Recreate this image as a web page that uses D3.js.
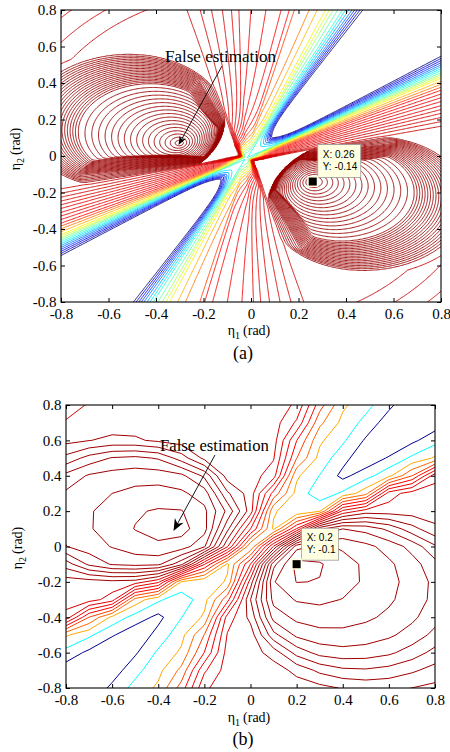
<!DOCTYPE html>
<html>
<head>
<meta charset="utf-8">
<script src="https://cdn.jsdelivr.net/npm/d3@7"></script>
<style>
  html, body { margin: 0; padding: 0; background: #ffffff; }
  svg { display: block; }
</style>
</head>
<body>
<svg id="fig" width="450" height="752"></svg>
<script>
// ---------------- data ----------------
const etaTicks = [-0.8, -0.6, -0.4, -0.2, 0, 0.2, 0.4, 0.6, 0.8];
const etaTickLabels = ["-0.8", "-0.6", "-0.4", "-0.2", "0", "0.2", "0.4", "0.6", "0.8"];

// (a) cost surface evaluated on a fine grid
const levelsA = [1,2,3,4,5,6,7,8,9,10,11,12,13,14,15,16,17,18,19,20,21,22,23,24,25,26,27,28,29,30,
                 31,32,33,34,35,36,37,38,39,40,41,42,43,44,45,46,47,48,49,50,51,52,53,54,55,56,57,58,59,60,61,62];
const saddleA = [-0.02, -0.013];               // crossing point of the valley (rad)
const wedgeA = [34.3, 58.9];                   // shallow / steep edge of the low wedges (deg, seen from the crossing)
const wedgeFallA = [1.6, -20];                 // fall inside a wedge (levels per deg), floor level
const crossingA = [8, 0.1, 2, 0.2, 4];         // crossing level; core radius and sharpness on the hill / wedge side
const steepBandA = [[0,1],[2.4,5],[4.6,8],[6.9,10],[8.7,12],[10.8,13],[12.7,14],[17,15],[18.3,16],
                    [20.3,17],[24.6,18],[29.1,19],[32.9,20],[35,21],[37.5,22],[50,26],[56,32],[66,50],[90,150]];
const shallowBandA = [[0,1],[2.3,5],[3.9,8],[5,10],[6.1,12],[7.9,14],[9.7,16],[10.9,17],[12.1,18],
                      [13.3,19],[14.7,20],[17.3,22],[23,26],[27,32],[35,50],[55,150]];
const hillPeaksA = [[-0.30, 0.07], [0.26, -0.14]];
const hillCentresA = [[-0.53, 0.19], [0.49, -0.26]];
const hillAxesA = [[0.42, 0.365], [0.42, 0.365]];
const hillTiltA = [8, 8];
const ringShapeA = 1.5;                        // how fast the rings drift from the peak towards the outer centre
const hillProfilesA = [[[0,62],[0.7,45],[1.0,26],[1.15,23],[2,14]],
                       [[0,62],[0.7,45],[1.0,26],[1.15,23],[2,14]]];
const shoulderA = [25.6, 0.86, 11];            // shoulder level, radius where it starts to fall, fall per rad
const tipA = [0.26, -0.14];

// (b) cost surface evaluated on a 0.1 rad grid
const levelsB = [1,2,3,4,5,6,7,8,9,10,11,12,13,14,15,16,17];
const saddleB = [0, 0];
const wedgeB = [37.3, 54];
const wedgeFallB = [0.3, -3];
const crossingB = [3.1, 0.15, 2, 0.52, 2];
const steepBandB = [[0,1],[3.3,2],[8.7,3],[12.5,4],[13.5,5],[17.3,6],[18.7,7],[20,8],[21.2,9],[25,10],[40,18],[90,30]];
const shallowBandB = [[0,1],[2,2],[5,3],[7,4],[7.5,5],[8.8,6],[9.5,7],[10.3,8],[10.8,9],[13,10],[18,18],[60,30]];
const hillPeaksB = [[-0.33, 0.10], [0.20, -0.10]];
const hillCentresB = [[-0.55, 0.20], [0.50, -0.30]];
const hillAxesB = [[0.47, 0.37], [0.50, 0.45]];
const hillTiltB = [0, 0];
const ringShapeB = 1.3;
const hillProfilesB = [[[0,16.5],[0.3,16],[0.55,15],[0.8,14],[0.88,13],[0.94,12],[1.0,11],[1.08,10],[1.4,8]],
                       [[0,17.4],[0.2,17],[0.38,16],[0.6,15],[0.75,14],[0.85,13],[0.92,12],[1.0,11],[1.1,10],[1.4,8]]];
const shoulderB = [9.5, 0.95, 4];
const tipB = [0.2, -0.1];

// ---------------- surface construction ----------------
function lerpTable(t, v) {
  let i = 1;
  while (i < t.length - 1 && v > t[i][0]) i++;
  const x0 = t[i-1][0], y0 = t[i-1][1], x1 = t[i][0], y1 = t[i][1];
  return y0 + (y1 - y0) * (v - x0) / (x1 - x0);
}
function smin(a, b, k) {
  const m = Math.min(a, b);
  return m - k * Math.log(1 + Math.exp(-Math.abs(a - b) / k));
}
function makeSurface(p) {
  const drift = rho => rho <= 1 ? Math.pow(rho, p.ringShape) : 1 + p.ringShape * (rho - 1);
  const hills = p.peaks.map((pk, k) => {
    const c = Math.cos(p.tilt[k] * Math.PI / 180), s = Math.sin(p.tilt[k] * Math.PI / 180);
    const A = p.axes[k][0], B = p.axes[k][1];
    const local = (dx, dy) => [(dx * c + dy * s) / A, (-dx * s + dy * c) / B];
    const e = local(p.centres[k][0] - pk[0], p.centres[k][1] - pk[1]);
    const prof = p.hillProfiles[k];
    return (x, y) => {
      const v = local(x - pk[0], y - pk[1]);
      let lo = 0, hi = 8;
      for (let it = 0; it < 28; it++) {
        const m = (lo + hi) / 2, gm = drift(m);
        if (Math.hypot(v[0] - gm * e[0], v[1] - gm * e[1]) > m) lo = m; else hi = m;
      }
      return lerpTable(prof, (lo + hi) / 2);
    };
  });
  const [Lc, rsHill, nHill, rsWedge, nWedge] = p.crossing;
  return (x, y) => {
    const dx = x - p.saddle[0], dy = y - p.saddle[1];
    const r = Math.sqrt(dx * dx + dy * dy);
    let th = Math.atan2(dy, dx) * 180 / Math.PI;
    th = ((th % 180) + 180) % 180;
    const sh = p.wedge[0], st = p.wedge[1];
    let L;
    if (th >= sh && th <= st) {
      L = Math.max(1 - p.wedgeFall[0] * Math.min(th - sh, st - th), p.wedgeFall[1]);
    } else {
      const a = th > st ? th - st : th + 180 - st;
      const b = 180 - (st - sh) - a;
      L = smin(lerpTable(p.steep, a), lerpTable(p.shallow, b), 0.6);
    }
    const d = L - Lc;
    const q = d > 0 ? Math.pow(r / rsHill, nHill) : Math.pow(r / rsWedge, nWedge);
    const valley = Lc + d * q / (1 + q);
    let h = p.shoulder[0] - p.shoulder[2] * Math.max(0, r - p.shoulder[1]);
    for (const f of hills) h = Math.max(h, f(x, y));
    return smin(valley, h, 0.5);
  };
}
function sampleGrid(fn, lo, hi, step) {
  const n = Math.round((hi - lo) / step) + 1;
  const values = new Float64Array(n * n);
  for (let j = 0; j < n; j++) {
    const yv = lo + j * step;
    for (let i = 0; i < n; i++) values[j * n + i] = fn(lo + i * step, yv);
  }
  return { n, values, lo, step };
}

// ---------------- styles ----------------
function jet(t) {
  const c = v => Math.max(0, Math.min(1, v));
  return d3.rgb(255 * c(1.5 - Math.abs(4 * t - 3)), 255 * c(1.5 - Math.abs(4 * t - 2)), 255 * c(1.5 - Math.abs(4 * t - 1)));
}
function colourA(L) {
  if (L <= 16) return jet((L - 1) / 15 * 0.875).formatHex();
  if (L <= 25) return d3.rgb(255 - 55 * (L - 16) / 9, 0, 0).formatHex();
  return "#990000";
}
const coloursB = ["#00008f", "#00ffff", "#ffaa00", "#ff6a00", "#ff4000", "#ff0000", "#f20000", "#e60000", "#d90000",
                  "#a00000", "#a00000", "#a00000", "#a00000", "#a00000", "#a00000", "#a00000", "#a00000"];
const colourB = L => coloursB[levelsB.indexOf(L)];

// ---------------- drawing ----------------
const svg = d3.select("#fig");
const serif = "Liberation Serif";
const sans = "Liberation Sans";

const panels = [
  { id: "a", box: { l: 61, r: 441, t: 10, b: 302 },
    surface: { saddle: saddleA, wedge: wedgeA, wedgeFall: wedgeFallA, crossing: crossingA, steep: steepBandA,
               shallow: shallowBandA, peaks: hillPeaksA, centres: hillCentresA, axes: hillAxesA, tilt: hillTiltA,
               ringShape: ringShapeA, hillProfiles: hillProfilesA, shoulder: shoulderA },
    grid: [-0.82, 0.82, 0.005], levels: levelsA, colour: colourA, width: 0.9, tip: tipA,
    tipText: ["X: 0.26", "Y: -0.14"], tipBox: [5, -37, 43, 33],
    label: { x: 165, y: 61.5, size: 17 }, arrow: [[222, 66], [178.5, 145], 9, 3.6],
    xLabelY: 334.5, yLabel: [20, 149], caption: ["(a)", 359], tickPad: 6.8 },
  { id: "b", box: { l: 66, r: 435, t: 405, b: 688 },
    surface: { saddle: saddleB, wedge: wedgeB, wedgeFall: wedgeFallB, crossing: crossingB, steep: steepBandB,
               shallow: shallowBandB, peaks: hillPeaksB, centres: hillCentresB, axes: hillAxesB, tilt: hillTiltB,
               ringShape: ringShapeB, hillProfiles: hillProfilesB, shoulder: shoulderB },
    grid: [-0.9, 0.9, 0.1], levels: levelsB, colour: colourB, width: 1.0, tip: tipB,
    tipText: ["X: 0.2", "Y: -0.1"], tipBox: [5, -36, 37, 32],
    label: { x: 160, y: 450.5, size: 16.7 }, arrow: [[215, 455], [173.5, 531], 12, 5],
    xLabelY: 722, yLabel: [22, 548], caption: ["(b)", 745], tickPad: 6.4 }
];

panels.forEach(P => {
  const { l, r, t, b } = P.box;
  const x = d3.scaleLinear().domain([-0.8, 0.8]).range([l, r]);
  const y = d3.scaleLinear().domain([-0.8, 0.8]).range([b, t]);
  const g = svg.append("g");

  g.append("clipPath").attr("id", "clip-" + P.id)
    .append("rect").attr("x", l).attr("y", t).attr("width", r - l).attr("height", b - t);

  // contour lines of the surface
  const grid = sampleGrid(makeSurface(P.surface), P.grid[0], P.grid[1], P.grid[2]);
  const toPx = d3.geoTransform({
    point(cx, cy) {
      this.stream.point(x(grid.lo + (cx - 0.5) * grid.step), y(grid.lo + (cy - 0.5) * grid.step));
    }
  });
  const path = d3.geoPath(toPx);
  const polys = d3.contours().size([grid.n, grid.n]).thresholds(P.levels)(grid.values);
  g.append("g").attr("clip-path", `url(#clip-${P.id})`)
    .selectAll("path").data(polys).join("path")
    .attr("d", path).attr("fill", "none")
    .attr("stroke", d => P.colour(d.value))
    .attr("stroke-width", P.width).attr("stroke-linejoin", "round");

  // axes with inward ticks on all four sides
  const fmt = (d, i) => etaTickLabels[i];
  g.append("g").attr("transform", `translate(0,${b})`)
    .call(d3.axisBottom(x).tickValues(etaTicks).tickFormat(fmt).tickSizeInner(-4).tickSizeOuter(0).tickPadding(P.tickPad));
  g.append("g").attr("transform", `translate(${l},0)`)
    .call(d3.axisLeft(y).tickValues(etaTicks).tickFormat(fmt).tickSizeInner(-4).tickSizeOuter(0).tickPadding(4.5));
  g.append("g").attr("transform", `translate(0,${t})`)
    .call(d3.axisTop(x).tickValues(etaTicks).tickFormat("").tickSizeInner(-4).tickSizeOuter(0));
  g.append("g").attr("transform", `translate(${r},0)`)
    .call(d3.axisRight(y).tickValues(etaTicks).tickFormat("").tickSizeInner(-4).tickSizeOuter(0));
  g.selectAll(".domain").remove();
  g.selectAll(".tick line").attr("stroke", "#000").attr("stroke-width", 1);
  g.selectAll(".tick text").attr("font-family", serif).attr("font-size", 15).attr("fill", "#000");

  g.append("rect").attr("x", l).attr("y", t).attr("width", r - l).attr("height", b - t)
    .attr("fill", "none").attr("stroke", "#000").attr("stroke-width", 1.1);

  // axis titles
  const xl = g.append("text").attr("x", 249).attr("y", P.xLabelY).attr("text-anchor", "middle")
    .attr("font-family", serif).attr("font-size", 14);
  xl.append("tspan").text("\u03b7");
  xl.append("tspan").attr("font-size", 10).attr("dy", 4).text("1");
  xl.append("tspan").attr("dy", -4).attr("dx", 3).text("(rad)");

  const yl = g.append("text").attr("transform", `translate(${P.yLabel[0]},${P.yLabel[1]}) rotate(-90)`)
    .attr("text-anchor", "middle").attr("font-family", serif).attr("font-size", 14);
  yl.append("tspan").text("\u03b7");
  yl.append("tspan").attr("font-size", 10).attr("dy", 4).text("2");
  yl.append("tspan").attr("dy", -4).attr("dx", 3).text("(rad)");

  g.append("text").attr("x", 243).attr("y", P.caption[1]).attr("text-anchor", "middle")
    .attr("font-family", serif).attr("font-size", 18).text(P.caption[0]);

  // false-estimation note with arrow
  g.append("text").attr("x", P.label.x).attr("y", P.label.y).attr("font-family", serif)
    .attr("font-size", P.label.size).attr("fill", "#000").text("False estimation");
  const [p0, p1, hl, hw] = P.arrow;
  const ang = Math.atan2(p1[1] - p0[1], p1[0] - p0[0]);
  g.append("line").attr("x1", p0[0]).attr("y1", p0[1])
    .attr("x2", p1[0] - Math.cos(ang) * hl * 0.6).attr("y2", p1[1] - Math.sin(ang) * hl * 0.6)
    .attr("stroke", "#000").attr("stroke-width", 0.9);
  g.append("path")
    .attr("d", `M0,0 L${-hl},${-hw} L${-hl * 0.7},0 L${-hl},${hw} Z`)
    .attr("transform", `translate(${p1[0]},${p1[1]}) rotate(${ang * 180 / Math.PI})`)
    .attr("fill", "#000");

  // data tip on the true estimate
  const tx = x(P.tip[0]), ty = y(P.tip[1]);
  const [bx, by, bw, bh] = P.tipBox;
  g.append("rect").attr("x", tx + bx).attr("y", ty + by).attr("width", bw).attr("height", bh)
    .attr("fill", "#ffffe1").attr("stroke", "#9a9a9a").attr("stroke-width", 0.8);
  P.tipText.forEach((s, i) => {
    g.append("text").attr("x", tx + bx + 5).attr("y", ty + by + 13 + i * 12)
      .attr("font-family", sans).attr("font-size", 10).attr("fill", "#000").text(s);
  });
  g.append("rect").attr("x", tx - 5.5).attr("y", ty - 5.5).attr("width", 11).attr("height", 11).attr("fill", "#ffffe1");
  g.append("rect").attr("x", tx - 4).attr("y", ty - 4).attr("width", 8).attr("height", 8).attr("fill", "#000");
});
</script>
</body>
</html>
